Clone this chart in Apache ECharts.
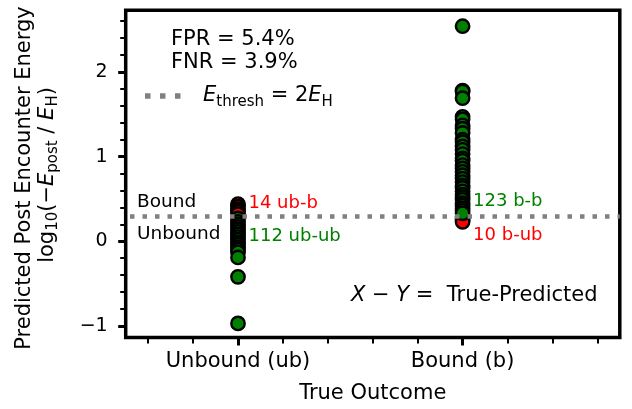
<!DOCTYPE html>
<html>
<head>
<meta charset="utf-8">
<script src="https://cdn.jsdelivr.net/npm/echarts@6/dist/echarts.min.js"></script>
<style>
  html, body { margin: 0; padding: 0; background: #fff; }
  #chart { width: 632px; height: 409px; }
</style>
</head>
<body>
<div id="chart"></div>
<script>
// True outcome categories (x positions 0 and 1)
const categories = ['Unbound (ub)', 'Bound (b)'];

// Axis ticks
const yMajorTicks = [-1, 0, 1, 2];
const yMinorTicks = [-0.8, -0.6, -0.4, -0.2, 0.2, 0.4, 0.6, 0.8, 1.2, 1.4, 1.6, 1.8, 2.2, 2.4, 2.6];
const xMajorTicks = [0, 1];
const xMinorTicks = [-0.4, -0.2, 0.2, 0.4, 0.6, 0.8, 1.2, 1.4, 1.6];

// Decision threshold: E_thresh = 2 E_H  ->  log10(2)
const threshold = Math.log10(2);

// Predicted log10(-E_post / E_H) values
// truly unbound, predicted bound (ub-b)
const unboundPredBound = [0.44, 0.41, 0.38, 0.35, 0.32];
// truly bound, predicted unbound (b-ub)
const boundPredUnbound = [0.29, 0.27, 0.25, 0.23];
// truly unbound, predicted unbound (ub-ub)
const unboundPredUnbound = [0.27, 0.23, 0.20, 0.17, 0.14, 0.11, 0.08, 0.05, 0.02, -0.01,
  -0.04, -0.07, -0.10, -0.13, -0.19, -0.42, -0.97];
// truly bound, predicted bound (b-b)
const boundPredBound = [2.54, 1.78, 1.77, 1.69, 1.47, 1.44, 1.37, 1.33, 1.28, 1.20, 1.17,
  1.12, 1.08, 1.03, 0.98, 0.95, 0.90, 0.86, 0.82, 0.78, 0.74, 0.70, 0.66, 0.63, 0.59,
  0.55, 0.52, 0.49, 0.45, 0.42, 0.39, 0.36, 0.33];

// Outcome counts and error rates
const countUbB = 14;
const countUbUb = 112;
const countBB = 123;
const countBUb = 10;
const fpr = '5.4%';
const fnr = '3.9%';

const FONT = 'DejaVu Sans';
const RED = '#ff0000';
const GREEN = '#008000';

const grid = { left: 125.7, right: 12.2, top: 10.3, bottom: 71.5 };
const W = 632, H = 409;
const gridW = W - grid.left - grid.right;
const gridH = H - grid.top - grid.bottom;

const chart = echarts.init(document.getElementById('chart'), null, { renderer: 'canvas' });

function points(x, values) { return values.map(v => [x, v]); }

const dotStyle = (color) => ({ color: color, borderColor: '#000', borderWidth: 2.4, opacity: 1 });
const DOT = 13.4;

const option = {
  animation: false,
  backgroundColor: '#fff',
  textStyle: { fontFamily: FONT, color: '#000' },
  grid: Object.assign({ show: true, borderColor: '#000', borderWidth: 3.5,
    backgroundColor: 'transparent', containLabel: false, outerBoundsMode: 'none' }, grid),
  xAxis: [
    {
      type: 'value', min: -0.5, max: 1.7, position: 'bottom',
      axisLine: { show: false, onZero: false }, splitLine: { show: false },
      axisTick: { show: true, customValues: xMajorTicks, length: 8, lineStyle: { color: '#000', width: 3 } },
      axisLabel: { customValues: xMajorTicks, formatter: v => categories[Math.round(v)],
        fontSize: 21, color: '#000', margin: 14, fontFamily: FONT },
      name: 'True Outcome', nameLocation: 'middle', nameGap: 46,
      nameTextStyle: { fontSize: 21, color: '#000', fontFamily: FONT }
    },
    {
      type: 'value', min: -0.5, max: 1.7, position: 'top', offset: -gridH,
      axisLine: { show: false, onZero: false }, splitLine: { show: false }, axisLabel: { show: false },
      axisTick: { show: true, inside: true, customValues: xMinorTicks, length: 6, lineStyle: { color: '#000', width: 2 } }
    }
  ],
  yAxis: [
    {
      type: 'value', min: -1.136, max: 2.728, position: 'left',
      axisLine: { show: false, onZero: false }, splitLine: { show: false },
      axisTick: { show: true, customValues: yMajorTicks, length: 7.5, lineStyle: { color: '#000', width: 3 } },
      axisLabel: { customValues: yMajorTicks, formatter: v => (v < 0 ? '\u2212' + Math.abs(v) : String(v)),
        fontSize: 19, color: '#000', margin: 18, fontFamily: FONT }
    },
    {
      type: 'value', min: -1.136, max: 2.728, position: 'right', offset: -gridW,
      axisLine: { show: false, onZero: false }, splitLine: { show: false }, axisLabel: { show: false },
      axisTick: { show: true, inside: true, customValues: yMinorTicks, length: 5.5, lineStyle: { color: '#000', width: 2 } }
    }
  ],
  series: [
    {
      type: 'line', data: [], z: 1, silent: true,
      markLine: {
        silent: true, symbol: ['none', 'none'], label: { show: false },
        lineStyle: { color: '#808080', width: 4.5, type: [4.5, 8], dashOffset: 8.2, cap: 'butt' },
        data: [{ yAxis: threshold }]
      }
    },
    { type: 'scatter', z: 3, symbol: 'circle', symbolSize: DOT, data: points(0, unboundPredBound), itemStyle: dotStyle(RED) },
    { type: 'scatter', z: 3, symbol: 'circle', symbolSize: DOT, data: points(1, boundPredUnbound), itemStyle: dotStyle(RED) },
    { type: 'scatter', z: 4, symbol: 'circle', symbolSize: DOT, data: points(0, unboundPredUnbound), itemStyle: dotStyle(GREEN) },
    { type: 'scatter', z: 4, symbol: 'circle', symbolSize: DOT, data: points(1, boundPredBound), itemStyle: dotStyle(GREEN) }
  ]
};

chart.setOption(option);

// Annotations placed relative to the threshold line and the two columns
const [ubX, thrY] = chart.convertToPixel({ gridIndex: 0 }, [0, threshold]);
const [bX] = chart.convertToPixel({ gridIndex: 0 }, [1, threshold]);

const rich = {
  n: { fontSize: 21, fontFamily: FONT, lineHeight: 30, fill: '#000' },
  it: { fontSize: 21, fontFamily: FONT, fontStyle: 'italic', lineHeight: 30, fill: '#000' },
  sub: { fontSize: 15, fontFamily: FONT, lineHeight: 15, padding: [12, 0, 0, 0], fill: '#000' }
};

function label(text, x, y, color, size, extra) {
  return {
    type: 'text', z: 10, silent: true,
    style: Object.assign({ text: text, x: x, y: y, fill: color, fontSize: size, fontFamily: FONT,
      align: 'left', verticalAlign: 'middle' }, extra || {})
  };
}

const graphics = [
  label('FPR = ' + fpr, 171, 39.3, '#000', 21),
  label('FNR = ' + fnr, 171, 62.8, '#000', 21),
  // legend entry for the threshold line
  { type: 'line', z: 10, silent: true,
    shape: { x1: 145, y1: 96, x2: 183, y2: 96 },
    style: { stroke: '#808080', lineWidth: 5.5, lineDash: [5.5, 9.5], lineCap: 'butt' } },
  label('{it|E}{sub|thresh}{n| = 2}{it|E}{sub|H}', 203, 96, '#000', 21, { rich: rich }),
  label('Bound', grid.left + 11.3, thrY - 14, '#000', 18.5),
  label('Unbound', grid.left + 11.3, thrY + 18.3, '#000', 18.5),
  label(countUbB + ' ub-b', ubX + 10.5, thrY - 12.5, RED, 18),
  label(countUbUb + ' ub-ub', ubX + 10.5, thrY + 20.5, GREEN, 18),
  label(countBB + ' b-b', bX + 10.5, thrY - 14.5, GREEN, 18),
  label(countBUb + ' b-ub', bX + 10.5, thrY + 20, RED, 18),
  label('{it|X}{n| \u2212 }{it|Y}{n| =  True-Predicted}', 351, 296, '#000', 21, { rich: rich }),
  // y-axis title, two rotated lines
  { type: 'text', z: 10, silent: true, x: 24.5, y: 178, rotation: Math.PI / 2,
    style: { text: 'Predicted Post Encounter Energy', x: 0, y: 0, fill: '#000', fontSize: 21,
      fontFamily: FONT, align: 'center', verticalAlign: 'middle' } },
  { type: 'text', z: 10, silent: true, x: 47.5, y: 175, rotation: Math.PI / 2,
    style: { text: '{n|log}{sub|10}{n|(\u2212}{it|E}{sub|post}{n| / }{it|E}{sub|H}{n|)}', rich: rich,
      x: 0, y: 0, fill: '#000', fontSize: 21, fontFamily: FONT, align: 'center', verticalAlign: 'middle' } }
];

chart.setOption({ graphic: graphics });
</script>
</body>
</html>
